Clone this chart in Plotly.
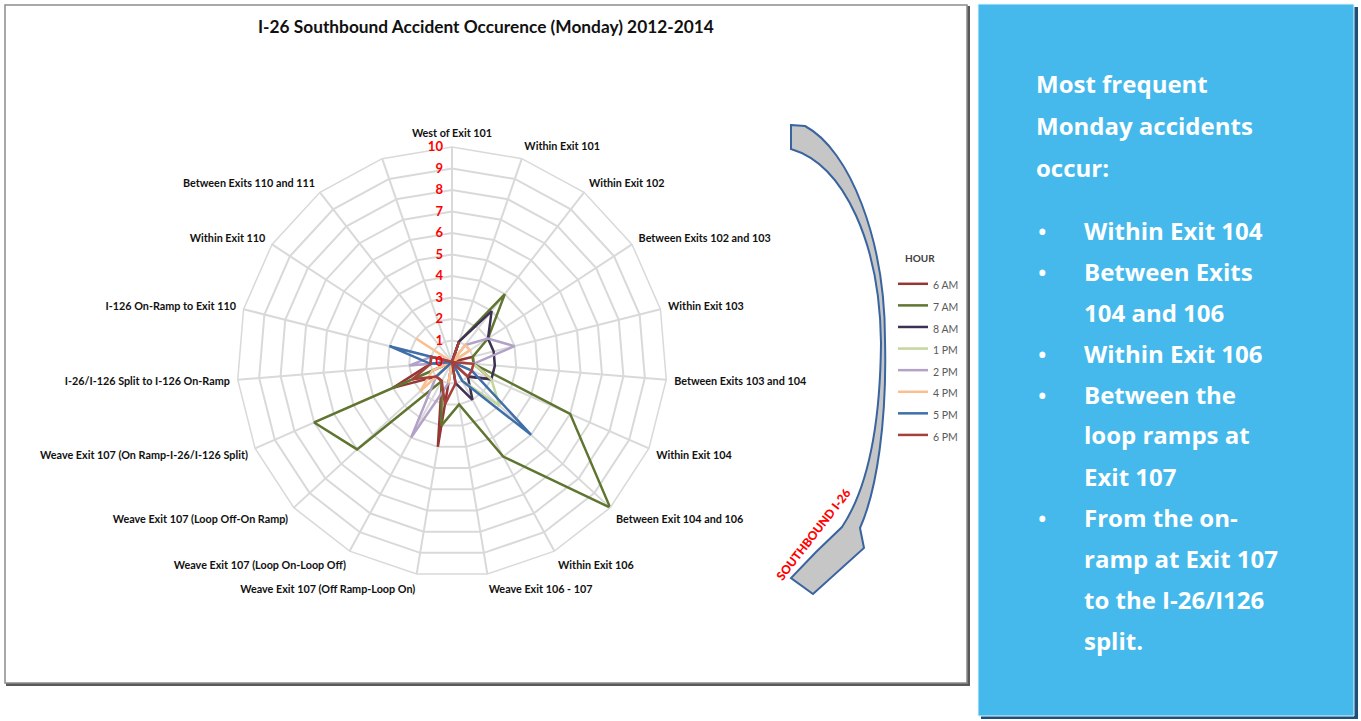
import plotly.graph_objects as go

W, H = 1361, 721

# Road segments along southbound I-26 (last spoke carries no label)
segments = [
    "West of Exit 101", "Within Exit 101", "Within Exit 102",
    "Between Exits 102 and 103", "Within Exit 103", "Between Exits 103 and 104",
    "Within Exit 104", "Between Exit 104 and 106", "Within Exit 106",
    "Weave Exit 106 - 107", "Weave Exit 107 (Off Ramp-Loop On)",
    "Weave Exit 107 (Loop On-Loop Off)", "Weave Exit 107 (Loop Off-On Ramp)",
    "Weave Exit 107 (On Ramp-I-26/I-126 Split)", "I-26/I-126 Split to I-126 On-Ramp",
    "I-126 On-Ramp to Exit 110", "Within Exit 110", "Between Exits 110 and 111", " ",
]

# Accident counts per segment, one list per hour of day
hours = ["6 AM", "7 AM", "8 AM", "1 PM", "2 PM", "4 PM", "5 PM", "6 PM"]
am6 = [0, 1, 0, 0, 1, 1, 2, 1, 0, 0, 4, 1, 1, 3, 1, 0, 0, 0, 0]
am7 = [0, 1, 4, 2, 1, 1, 6, 10, 5, 2, 3, 1, 6, 7, 0, 0, 0, 0, 0]
am8 = [0, 1, 3, 2, 2, 2, 2, 1, 2, 1, 0, 0, 0, 0, 1, 1, 0, 0, 0]
pm1 = [0, 0, 0, 1, 0, 1, 2, 3, 1, 0, 1, 0, 0, 0, 0, 0, 0, 0, 0]
pm2 = [0, 0, 1, 2, 3, 1, 0, 1, 0, 0, 1, 4, 1, 0, 2, 1, 0, 0, 0]
pm4 = [0, 0, 1, 1, 0, 1, 0, 0, 0, 0, 1, 0, 2, 1, 0, 0, 2, 0, 0]
pm5 = [0, 0, 0, 0, 0, 0, 1, 5, 1, 0, 0, 0, 1, 0, 1, 3, 0, 0, 0]
pm6 = [0, 1, 0, 0, 0, 1, 1, 1, 0, 1, 2, 1, 1, 2, 1, 1, 0, 0, 0]
series = [am6, am7, am8, pm1, pm2, pm4, pm5, pm6]
colors = ["#953735", "#5f7530", "#3f3151", "#c3d69b", "#b3a2c7", "#fac090", "#3f6ea8", "#a5403c"]

radial_ticks = list(range(0, 11))

panel_heading = ["Most frequent", "Monday accidents", "occur:"]
panel_bullets = [
    ["Within Exit 104"],
    ["Between Exits", "104 and 106"],
    ["Within Exit 106"],
    ["Between the", "loop ramps at", "Exit 107"],
    ["From the on-", "ramp at Exit 107", "to the I-26/I126", "split."],
]


def px_x(x):
    return x / W


def px_y(y):
    return 1 - y / H


def pt(x, y):
    return f"{px_x(x):.5f},{px_y(y):.5f}"


fig = go.Figure()

for name, vals, col in zip(hours, series, colors):
    fig.add_trace(go.Scatterpolar(
        r=vals + vals[:1],
        theta=segments + segments[:1],
        mode="lines",
        name=f'<span style="font-size:10.5px">{name}</span>',
        line=dict(color=col, width=2.5),
    ))

# Polar area: centre (452, 362), radius 215 px
cx, cy, rad = 452, 362, 215
fig.update_layout(
    width=W, height=H, autosize=False,
    margin=dict(l=0, r=0, t=0, b=0),
    paper_bgcolor="white",
    showlegend=True,
    polar=dict(
        domain=dict(x=[px_x(cx - rad), px_x(cx + rad)], y=[px_y(cy + rad), px_y(cy - rad)]),
        bgcolor="white",
        gridshape="linear",
        angularaxis=dict(
            type="category", rotation=90, direction="clockwise",
            showline=True, linecolor="#d9d9d9", linewidth=1.5,
            gridcolor="#d9d9d9", gridwidth=1.5,
            ticks="outside", ticklen=5, tickcolor="rgba(0,0,0,0)",
            tickfont=dict(family="Lato", size=10.8, color="#111111", weight="bold"),
        ),
        radialaxis=dict(
            range=[0, 10], tickvals=radial_ticks, angle=90, tickangle=90,
            showline=False, gridcolor="#d9d9d9", gridwidth=1.5,
            ticks="outside", ticklen=4, tickcolor="rgba(0,0,0,0)",
            side="counterclockwise",
            tickfont=dict(family="Lato", size=13, color="#ff0000", weight="bold"),
        ),
    ),
    legend=dict(
        x=px_x(893), y=px_y(268), xanchor="left", yanchor="top",
        bgcolor="rgba(0,0,0,0)",
        font=dict(family="Lato", size=14.3, color="#595959"),
        tracegroupgap=0,
    ),
)

shapes = []
# chart frame with shadow
shapes.append(dict(type="rect", xref="paper", yref="paper", layer="below",
                   x0=px_x(7), x1=px_x(969), y0=px_y(685), y1=px_y(7),
                   line=dict(color="#595959", width=2), fillcolor="#595959"))
shapes.append(dict(type="rect", xref="paper", yref="paper", layer="below",
                   x0=px_x(5), x1=px_x(967), y0=px_y(683), y1=px_y(5),
                   line=dict(color="#8c8c8c", width=1.5), fillcolor="white"))
# info panel with shadow
shapes.append(dict(type="rect", xref="paper", yref="paper", layer="below",
                   x0=px_x(981), x1=px_x(1358), y0=px_y(719), y1=px_y(7),
                   line=dict(width=0), fillcolor="#1f4e79"))
shapes.append(dict(type="rect", xref="paper", yref="paper", layer="below",
                   x0=px_x(978), x1=px_x(1354), y0=px_y(716), y1=px_y(4),
                   line=dict(color="#e6f4fb", width=1), fillcolor="#45b9ec"))
# curved southbound arrow
arrow = ("M " + pt(791, 125) + " L " + pt(805, 126)
         + " C " + pt(850, 150) + " " + pt(885, 240) + " " + pt(885, 340)
         + " C " + pt(887, 420) + " " + pt(877, 490) + " " + pt(860, 528)
         + " L " + pt(864, 548) + " L " + pt(813, 594) + " L " + pt(791, 578)
         + " L " + pt(816, 552) + " L " + pt(842, 527)
         + " C " + pt(860, 500) + " " + pt(880, 450) + " " + pt(881, 343)
         + " C " + pt(880, 245) + " " + pt(845, 165) + " " + pt(791, 149) + " Z")
shapes.append(dict(type="path", xref="paper", yref="paper", path=arrow,
                   fillcolor="#c6c6c6", line=dict(color="#3a64a0", width=2)))
fig.update_layout(shapes=shapes)

ann = []
ann.append(dict(text="I-26 Southbound Accident Occurence (Monday) 2012-2014",
                x=px_x(486), y=px_y(27), xref="paper", yref="paper",
                showarrow=False, xanchor="center", yanchor="middle",
                font=dict(family="Lato", size=17.3, color="#111111", weight="bold")))
ann.append(dict(text="HOUR", x=px_x(920), y=px_y(258), xref="paper", yref="paper",
                showarrow=False, xanchor="center", yanchor="middle",
                font=dict(family="Lato", size=10, color="#404040", weight="bold")))
ann.append(dict(text="SOUTHBOUND I-26", x=px_x(813), y=px_y(534), xref="paper", yref="paper",
                showarrow=False, textangle=-52, xanchor="center", yanchor="middle",
                font=dict(family="Lato", size=12, color="#ff0000", weight=900)))

panel_font = dict(family="Open Sans", size=24, color="white", weight="bold")
y = 84
for line in panel_heading:
    ann.append(dict(text=line, x=px_x(1034), y=px_y(y), xref="paper", yref="paper",
                    showarrow=False, xanchor="left", yanchor="middle", font=panel_font))
    y += 41.5
y = 230
for item in panel_bullets:
    ann.append(dict(text="•", x=px_x(1035), y=px_y(y + 1), xref="paper", yref="paper",
                    showarrow=False, xanchor="left", yanchor="middle",
                    font=dict(family="Open Sans", size=28, color="white")))
    for line in item:
        ann.append(dict(text=line, x=px_x(1082), y=px_y(y), xref="paper", yref="paper",
                        showarrow=False, xanchor="left", yanchor="middle", font=panel_font))
        y += 41
fig.update_layout(annotations=ann)

fig.write_html("out.html")
